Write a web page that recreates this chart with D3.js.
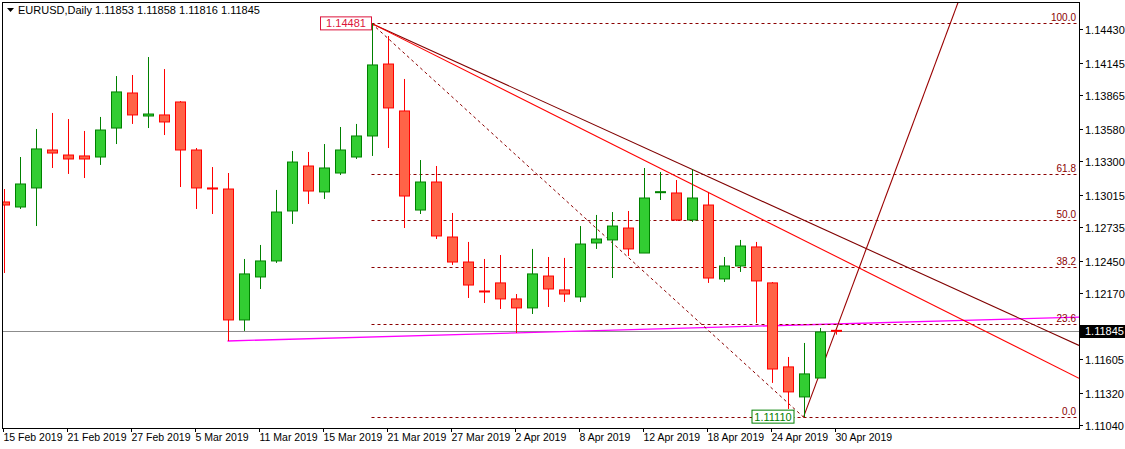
<!DOCTYPE html>
<html><head><meta charset="utf-8">
<script src="https://cdn.jsdelivr.net/npm/d3@7"></script>
<style>body{margin:0;background:#fff}svg{display:block}text{font-family:"Liberation Sans",Arial,sans-serif}</style>
</head><body><svg id="c" width="1125" height="449"></svg>
<script>
const opens  = [1.12952,1.12909,1.13072,1.13397,1.13354,1.13346,1.13337,1.13585,1.13885,1.13688,1.13697,1.13808,1.13397,1.13072,1.13063,1.11942,1.12310,1.12447,1.12875,1.13260,1.13038,1.13200,1.13337,1.13517,1.14133,1.13731,1.12883,1.13123,1.12652,1.12438,1.12190,1.12259,1.12122,1.12045,1.12318,1.12199,1.12139,1.12601,1.12627,1.12729,1.12515,1.13038,1.13029,1.12798,1.12926,1.12293,1.12404,1.12567,1.12259,1.11540,1.11283,1.11445,1.11853];
const highs  = [1.13063,1.13337,1.13577,1.13714,1.13662,1.13560,1.13680,1.14030,1.14039,1.14193,1.14090,1.13816,1.13414,1.13251,1.13200,1.12464,1.12584,1.13055,1.13388,1.13380,1.13448,1.13594,1.13620,1.14481,1.14373,1.14005,1.13311,1.13260,1.12858,1.12610,1.12464,1.12498,1.12164,1.12550,1.12481,1.12473,1.12746,1.12841,1.12866,1.12875,1.13243,1.13209,1.13140,1.13234,1.13038,1.12481,1.12627,1.12610,1.12267,1.11625,1.11745,1.11873,1.11858];
const lows   = [1.12344,1.12892,1.12746,1.13243,1.13192,1.13157,1.13269,1.13448,1.13620,1.13585,1.13525,1.13080,1.12892,1.12849,1.11762,1.11848,1.12207,1.12430,1.12764,1.12935,1.12978,1.13183,1.13320,1.13346,1.13414,1.12729,1.12849,1.12635,1.12413,1.12130,1.12087,1.12036,1.11831,1.11993,1.12053,1.12096,1.12096,1.12550,1.12301,1.12490,1.12515,1.12969,1.12789,1.12781,1.12259,1.12267,1.12353,1.11916,1.11403,1.11180,1.11110,1.11445,1.11816];
const closes = [1.12926,1.13106,1.13406,1.13371,1.13320,1.13320,1.13568,1.13894,1.13697,1.13705,1.13637,1.13397,1.13072,1.13063,1.11942,1.12336,1.12447,1.12866,1.13294,1.13046,1.13243,1.13397,1.13517,1.14125,1.13757,1.13003,1.13123,1.12661,1.12438,1.12241,1.12182,1.12122,1.12045,1.12336,1.12207,1.12164,1.12592,1.12635,1.12746,1.12550,1.12986,1.13040,1.12798,1.12986,1.12301,1.12404,1.12575,1.12276,1.11522,1.11326,1.11480,1.11839,1.11845];
const dateLabels = ["15 Feb 2019","21 Feb 2019","27 Feb 2019","5 Mar 2019","11 Mar 2019","15 Mar 2019","21 Mar 2019","27 Mar 2019","2 Apr 2019","8 Apr 2019","12 Apr 2019","18 Apr 2019","24 Apr 2019","30 Apr 2019"];
const dateLabelIdx = [0,4,8,12,16,20,24,28,32,36,40,44,48,52];
const priceTicks = [1.14430,1.14145,1.13865,1.13580,1.13300,1.13015,1.12735,1.12450,1.12170,1.11885,1.11605,1.11320,1.11040];
const fiboLevels = [0,23.6,38.2,50,61.8,100];
const fiboHigh = 1.14481, fiboLow = 1.11110, fiboHighIdx = 23, fiboLowIdx = 50;
const bid = 1.11845;
const header = "EURUSD,Daily  1.11853 1.11858 1.11816 1.11845";

const svg = d3.select("#c");
const L=2,T=2,R=1079,B=428;
const y = d3.scaleLinear().domain([1.11017,1.14664]).range([B,T]);
const x = d3.scaleLinear().domain([0,1]).range([3.5,19.5]);
const xEdge = x.invert(R);
svg.append("clipPath").attr("id","pc").append("rect").attr("x",L).attr("y",T).attr("width",R-L).attr("height",B-T);
const pg = svg.append("g").attr("clip-path","url(#pc)");

pg.append("line").attr("x1",L).attr("x2",R).attr("y1",Math.round(y(bid))+.5).attr("y2",Math.round(y(bid))+.5).attr("stroke","#8c8c8c");

const mI0=14,mI1=32;
const mSlope=(lows[mI1]-lows[mI0])/(mI1-mI0);
pg.append("line").attr("x1",x(mI0)).attr("y1",y(lows[mI0])).attr("x2",x(xEdge)).attr("y2",y(lows[mI0]+mSlope*(xEdge-mI0))).attr("stroke","#ff00ff").attr("stroke-width",1.3);

const fr = fiboHigh-fiboLow;
fiboLevels.forEach(l=>{
  const yy=Math.round(y(fiboLow+fr*l/100))+.5;
  pg.append("line").attr("x1",x(fiboHighIdx)).attr("x2",R).attr("y1",yy).attr("y2",yy).attr("stroke","#8b0000").attr("stroke-dasharray","3,3");
  pg.append("text").attr("x",1076).attr("y",yy-3).attr("text-anchor","end").attr("font-size",10).attr("fill","#8b0000").text(l.toFixed(1));
});
pg.append("line").attr("x1",x(fiboHighIdx)).attr("y1",y(fiboHigh)).attr("x2",x(fiboLowIdx)).attr("y2",y(fiboLow)).attr("stroke","#8b0000").attr("stroke-dasharray","3,3");

function ray(i0,p0,i1,p1,col){
  const s=(p1-p0)/(i1-i0);
  const ie = s>0? i0+ (y.domain()[1]-p0)/s + 2 : xEdge;
  pg.append("line").attr("x1",x(i0)).attr("y1",y(p0)).attr("x2",x(ie)).attr("y2",y(p0+s*(ie-i0))).attr("stroke",col).attr("stroke-width",1.1);
}
ray(fiboHighIdx,fiboHigh,43,1.13234,"#800000");
ray(fiboHighIdx,fiboHigh,44,1.13038,"#ff0000");
ray(fiboLowIdx,fiboLow,52,1.11845,"#990000");

const data = opens.map((o,i)=>({i,o,h:highs[i],l:lows[i],c:closes[i]}));
data.forEach(d=>{
  const up=d.c>=d.o;
  const cx=Math.round(x(d.i))+.5;
  const wc=up?"#008000":"#ff0000";
  pg.append("line").attr("x1",cx).attr("x2",cx).attr("y1",y(d.h)).attr("y2",y(d.l)).attr("stroke",wc);
  const top=y(Math.max(d.o,d.c)), bot=y(Math.min(d.o,d.c));
  pg.append("rect").attr("x",cx-5).attr("y",top).attr("width",10).attr("height",Math.max(1,bot-top))
    .attr("fill",up?"#32cd32":"#ff6347").attr("stroke",up?"#008000":"#ff0000");
});

{
  const cx=x(fiboHighIdx), yy=y(fiboHigh), w=51, h=13;
  svg.append("rect").attr("x",cx-w).attr("y",yy-h/2).attr("width",w).attr("height",h).attr("fill","#fff").attr("stroke","#dc143c");
  svg.append("text").attr("x",cx-w/2).attr("y",yy+4).attr("text-anchor","middle").attr("font-size",11).attr("fill","#dc143c").text(fiboHigh.toFixed(5));
}
svg.append("rect").attr("x",752).attr("y",y(fiboLow)-7).attr("width",42).attr("height",13).attr("fill","#fff").attr("stroke","#008000");
svg.append("text").attr("x",773).attr("y",y(fiboLow)+4).attr("text-anchor","middle").attr("font-size",11).attr("fill","#008000").text(fiboLow.toFixed(5));

svg.append("rect").attr("x",L+.5).attr("y",T+.5).attr("width",R-L).attr("height",B-T).attr("fill","none").attr("stroke","#000");

const by=Math.round(y(bid));
priceTicks.forEach(p=>{
  const yy=Math.round(y(p))+.5;
  svg.append("line").attr("x1",R).attr("x2",R+4).attr("y1",yy).attr("y2",yy).attr("stroke","#000");
  if (Math.abs(yy-by)>9) svg.append("text").attr("x",1085).attr("y",yy+4).attr("font-size",11).attr("fill","#000").text(p.toFixed(5));
});
svg.append("rect").attr("x",1080).attr("y",by-6).attr("width",45).attr("height",13).attr("fill","#000");
svg.append("text").attr("x",1085).attr("y",by+4).attr("font-size",11).attr("fill","#fff").text(bid.toFixed(5));

dateLabelIdx.forEach((idx,k)=>{
  const xx=Math.round(x(idx)-0.5)+.5;
  svg.append("line").attr("x1",xx).attr("x2",xx).attr("y1",B).attr("y2",B+4).attr("stroke","#000");
  svg.append("text").attr("x",xx).attr("y",441).attr("font-size",10.5).attr("fill","#000").text(dateLabels[k]);
});

svg.append("path").attr("d","M7,8 L14,8 L10.5,12 Z").attr("fill","#000");
svg.append("text").attr("x",18).attr("y",14).attr("font-size",11).attr("fill","#000").text(header);
</script></body></html>
